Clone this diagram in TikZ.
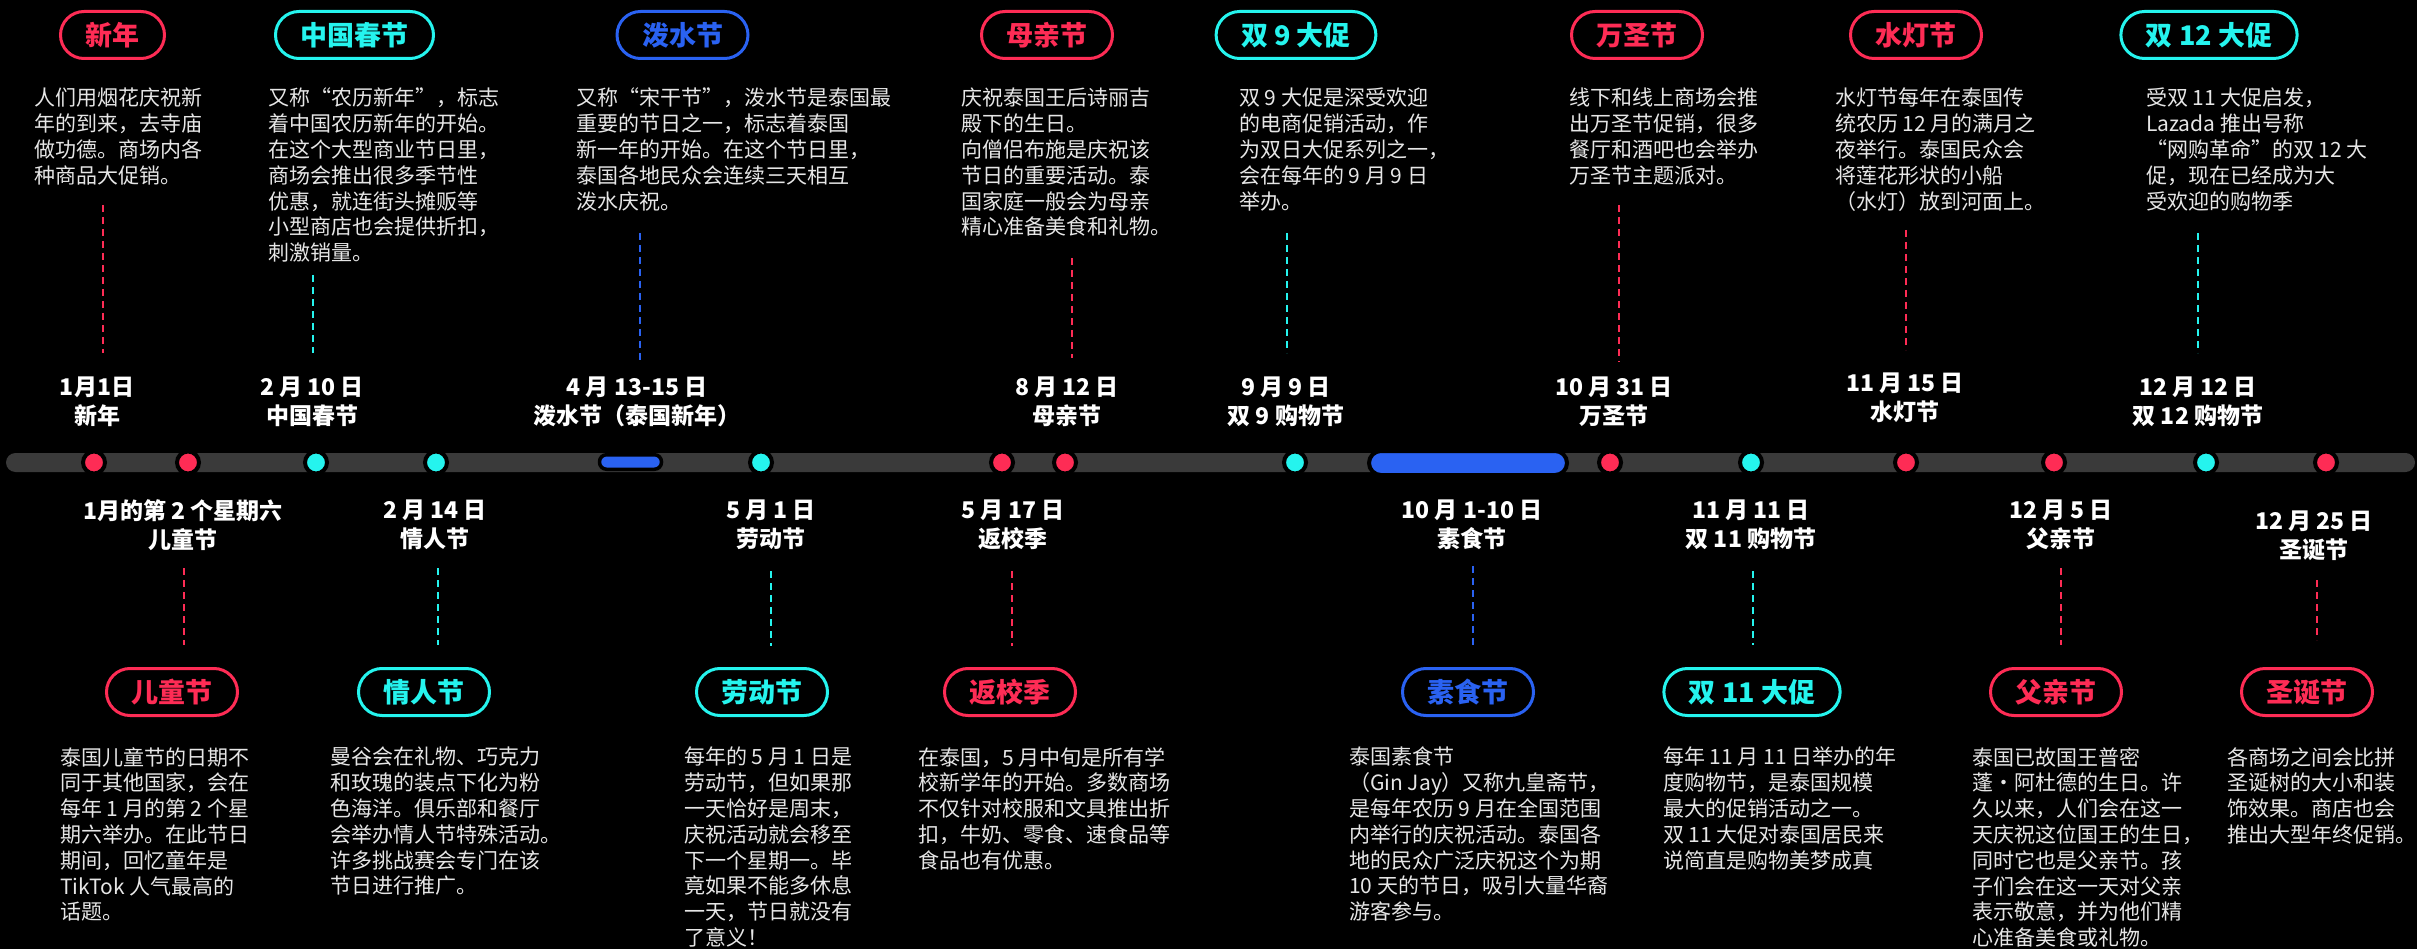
\documentclass[tikz,border=0pt]{standalone}
\usepackage{fontspec}
\setmainfont{Noto Sans CJK SC}
\definecolor{tkred}{HTML}{FE2C55}
\definecolor{tkcyan}{HTML}{25F4EE}
\definecolor{tkblue}{HTML}{2A62F2}
\definecolor{bargray}{HTML}{3A3A3A}
\definecolor{bodygray}{HTML}{E6E6E6}
\tikzset{
    pill/.style = {draw=#1, text=#1, line width=3pt, rectangle,
        rounded corners=23.5pt,
        minimum height=47pt, inner xsep=25pt, inner ysep=0pt,
        font=\bfseries\fontsize{27}{30}\selectfont},
    body/.style = {anchor=north west, align=left, inner sep=0pt, text=bodygray,
        font=\fontsize{21}{25.8}\selectfont},
    datelbl/.style = {align=center, inner sep=0pt, text=white,
        font=\bfseries\fontsize{23}{29}\selectfont},
    dot/.style = {circle, fill=#1, draw=black, line width=4pt,
        minimum size=22pt, inner sep=0pt},
    span/.style = {rectangle, fill=tkblue, draw=black, line width=4pt,
        rounded corners=#1, inner sep=0pt},
    dashline/.style = {draw=#1, line width=2pt, dash pattern=on 7pt off 5pt},
    timeline/.style = {rectangle, fill=bargray, rounded corners=9.5pt,
        inner sep=0pt, minimum width=2409pt, minimum height=19pt}
}

\begin{document}
\begin{tikzpicture}[x=1pt, y=-1pt]
    \useasboundingbox[fill=black] (0,0) rectangle (2417,949);

    \node[pill=tkred] (pNewyear) at (112.5,35) {新年};
    \node[pill=tkcyan] (pSpring) at (354.5,35) {中国春节};
    \node[pill=tkblue] (pSongkran) at (682.5,35) {泼水节};
    \node[pill=tkred] (pMother) at (1047,35) {母亲节};
    \node[pill=tkcyan] (pDnine) at (1296,35) {双 9 大促};
    \node[pill=tkred] (pHalloween) at (1637,35) {万圣节};
    \node[pill=tkred] (pLoy) at (1916,35) {水灯节};
    \node[pill=tkcyan] (pDtwelve) at (2209,35) {双 12 大促};

    \node[body] (tNewyear) at (34,88) {人们用烟花庆祝新\\年的到来，去寺庙\\做功德。商场内各\\种商品大促销。};
    \node[body] (tSpring) at (268,88) {又称“农历新年”，标志\\着中国农历新年的开始。\\在这个大型商业节日里，\\商场会推出很多季节性\\优惠，就连街头摊贩等\\小型商店也会提供折扣，\\刺激销量。};
    \node[body] (tSongkran) at (576,88) {又称“宋干节”，泼水节是泰国最\\重要的节日之一，标志着泰国\\新一年的开始。在这个节日里，\\泰国各地民众会连续三天相互\\泼水庆祝。};
    \node[body] (tMother) at (961,88) {庆祝泰国王后诗丽吉\\殿下的生日。\\向僧侣布施是庆祝该\\节日的重要活动。泰\\国家庭一般会为母亲\\精心准备美食和礼物。};
    \node[body] (tDnine) at (1239,88) {双 9 大促是深受欢迎\\的电商促销活动，作\\为双日大促系列之一，\\会在每年的 9 月 9 日\\举办。};
    \node[body] (tHalloween) at (1569,88) {线下和线上商场会推\\出万圣节促销，很多\\餐厅和酒吧也会举办\\万圣节主题派对。};
    \node[body] (tLoy) at (1835,88) {水灯节每年在泰国传\\统农历 12 月的满月之\\夜举行。泰国民众会\\将莲花形状的小船\\（水灯）放到河面上。};
    \node[body] (tDtwelve) at (2146,88) {受双 11 大促启发，\\Lazada 推出号称\\“网购革命”的双 12 大\\促，现在已经成为大\\受欢迎的购物季};

    \node[datelbl] (dNewyear) at (97,402) {1月1日\\新年};
    \node[datelbl] (dSpring) at (312,402) {2 月 10 日\\中国春节};
    \node[datelbl] (dSongkran) at (637,402) {4 月 13-15 日\\泼水节（泰国新年）};
    \node[datelbl] (dMother) at (1067,402) {8 月 12 日\\母亲节};
    \node[datelbl] (dDnine) at (1286,402) {9 月 9 日\\双 9 购物节};
    \node[datelbl] (dHalloween) at (1614,402) {10 月 31 日\\万圣节};
    \node[datelbl] (dLoy) at (1905,398) {11 月 15 日\\水灯节};
    \node[datelbl] (dDtwelve) at (2198,402) {12 月 12 日\\双 12 购物节};

    \node[timeline] (bar) at (1210.5,462.5) {};
    \node[dot=tkred] (oNewyear) at (94,462.5) {};
    \node[dot=tkred] (oChildren) at (188,462.5) {};
    \node[dot=tkcyan] (oSpring) at (316,462.5) {};
    \node[dot=tkcyan] (oValentine) at (436,462.5) {};
    \node[span=7pt, line width=3.5pt, minimum width=62pt, minimum height=14.5pt] (sSongkran) at (630.5,462) {};
    \node[dot=tkcyan] (oLabour) at (761,462.5) {};
    \node[dot=tkred] (oSchool) at (1002,462.5) {};
    \node[dot=tkred] (oMother) at (1065,462.5) {};
    \node[dot=tkcyan] (oDnine) at (1295,462.5) {};
    \node[span=12pt, minimum width=198pt, minimum height=24pt] (sVeg) at (1468,463) {};
    \node[dot=tkred] (oHalloween) at (1610,462.5) {};
    \node[dot=tkcyan] (oDeleven) at (1751,462.5) {};
    \node[dot=tkred] (oLoy) at (1906,462.5) {};
    \node[dot=tkred] (oFather) at (2054,462.5) {};
    \node[dot=tkcyan] (oDtwelve) at (2206,462.5) {};
    \node[dot=tkred] (oXmas) at (2326,462.5) {};

    \node[datelbl] (dChildren) at (183,525) {1月的第 2 个星期六\\儿童节};
    \node[datelbl] (dValentine) at (435,525) {2 月 14 日\\情人节};
    \node[datelbl] (dLabour) at (771,525) {5 月 1 日\\劳动节};
    \node[datelbl] (dSchool) at (1013,525) {5 月 17 日\\返校季};
    \node[datelbl] (dVeg) at (1472,525) {10 月 1-10 日\\素食节};
    \node[datelbl] (dDeleven) at (1751,525) {11 月 11 日\\双 11 购物节};
    \node[datelbl] (dFather) at (2061,525) {12 月 5 日\\父亲节};
    \node[datelbl] (dXmas) at (2314,536) {12 月 25 日\\圣诞节};

    \node[pill=tkred] (pChildren) at (172,692) {儿童节};
    \node[pill=tkcyan] (pValentine) at (424,692) {情人节};
    \node[pill=tkcyan] (pLabour) at (762,692) {劳动节};
    \node[pill=tkred] (pSchool) at (1010,692) {返校季};
    \node[pill=tkblue] (pVeg) at (1468,692) {素食节};
    \node[pill=tkcyan] (pDeleven) at (1752,692) {双 11 大促};
    \node[pill=tkred] (pFather) at (2056,692) {父亲节};
    \node[pill=tkred] (pXmas) at (2307,692) {圣诞节};

    \node[body] (tChildren) at (60,747) {泰国儿童节的日期不\\同于其他国家，会在\\每年 1 月的第 2 个星\\期六举办。在此节日\\期间，回忆童年是\\TikTok 人气最高的\\话题。};
    \node[body] (tValentine) at (330,747) {曼谷会在礼物、巧克力\\和玫瑰的装点下化为粉\\色海洋。俱乐部和餐厅\\会举办情人节特殊活动。\\许多挑战赛会专门在该\\节日进行推广。};
    \node[body] (tLabour) at (684,747) {每年的 5 月 1 日是\\劳动节，但如果那\\一天恰好是周末，\\庆祝活动就会移至\\下一个星期一。毕\\竟如果不能多休息\\一天，节日就没有\\了意义！};
    \node[body] (tSchool) at (918,747) {在泰国，5 月中旬是所有学\\校新学年的开始。多数商场\\不仅针对校服和文具推出折\\扣，牛奶、零食、速食品等\\食品也有优惠。};
    \node[body] (tVeg) at (1349,747) {泰国素食节\\（Gin Jay）又称九皇斋节，\\是每年农历 9 月在全国范围\\内举行的庆祝活动。泰国各\\地的民众广泛庆祝这个为期\\10 天的节日，吸引大量华裔\\游客参与。};
    \node[body] (tDeleven) at (1663,747) {每年 11 月 11 日举办的年\\度购物节，是泰国规模\\最大的促销活动之一。\\双 11 大促对泰国居民来\\说简直是购物美梦成真};
    \node[body] (tFather) at (1972,747) {泰国已故国王普密\\蓬·阿杜德的生日。许\\久以来，人们会在这一\\天庆祝这位国王的生日，\\同时它也是父亲节。孩\\子们会在这一天对父亲\\表示敬意，并为他们精\\心准备美食或礼物。};
    \node[body] (tXmas) at (2227,747) {各商场之间会比拼\\圣诞树的大小和装\\饰效果。商店也会\\推出大型年终促销。};

    \foreach \n/\x/\ya/\yb/\c in {Newyear/103/205/353/tkred, Spring/313/275/353/tkcyan,
        Songkran/640/233/362/tkblue, Mother/1072/258/358/tkred, Dnine/1287/233/353/tkcyan,
        Halloween/1619/205/362/tkred, Loy/1906/230/350/tkred, Dtwelve/2198/233/353/tkcyan,
        Children/184/568/645/tkred, Valentine/438/568/645/tkcyan, Labour/771/571/646/tkcyan,
        School/1012/571/646/tkred, Veg/1473/566/646/tkblue, Deleven/1753/571/645/tkcyan,
        Father/2061/568/645/tkred, Xmas/2317/580/640/tkred} {
        \coordinate (a\n) at (\x,\ya);
        \coordinate (b\n) at (\x,\yb);
        \draw[dashline=\c] (a\n) -- (b\n);
    }
\end{tikzpicture}
\end{document}
